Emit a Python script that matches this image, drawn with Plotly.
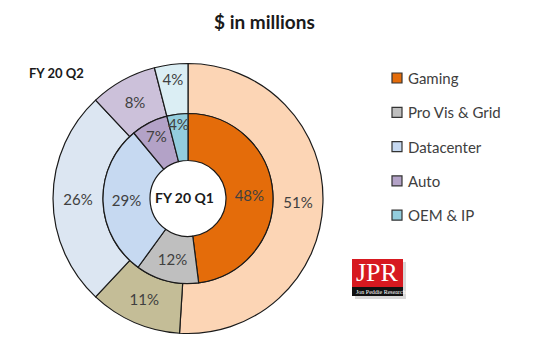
import plotly.graph_objects as go

# Revenue mix by segment, share of total (%)
segments = ["Gaming", "Pro Vis & Grid", "Datacenter", "Auto", "OEM & IP"]
q1_share = [48, 12, 29, 7, 4]   # FY 20 Q1 (inner ring)
q2_share = [51, 11, 26, 8, 4]   # FY 20 Q2 (outer ring)

inner_colors = ["#E46C0A", "#BFBFBF", "#C6D9F1", "#B3A2C7", "#93CDDD"]
outer_colors = ["#FCD5B5", "#C4BD97", "#DCE6F2", "#CCC1DA", "#DBEEF4"]

W, H = 550, 349
FONT = "Lato"
TXT = "#404040"


def px(x):
    return x / W


def py(y):
    return 1 - y / H


def label(text, x, y, size, color, family=FONT, xanchor="center"):
    return dict(text=text, x=px(x), y=py(y), xref="paper", yref="paper",
                xanchor=xanchor, yanchor="middle", showarrow=False,
                font=dict(family=family, size=size, color=color))


cx, cy = 188, 198.5
r_out, r_in, r_hole = 135, 85, 38

fig = go.Figure()

fig.add_trace(go.Pie(
    labels=segments, values=q2_share, sort=False, direction="clockwise",
    rotation=0, hole=r_in / r_out,
    domain=dict(x=[px(cx - r_out), px(cx + r_out)], y=[py(cy + r_out), py(cy - r_out)]),
    marker=dict(colors=outer_colors, line=dict(color="#1a1a1a", width=1.2)),
    texttemplate="%{value}%", textposition="inside", insidetextorientation="horizontal",
    textfont=dict(family=FONT, size=15, color=TXT),
    showlegend=False, hoverinfo="label+value",
))

fig.add_trace(go.Pie(
    labels=segments, values=q1_share, sort=False, direction="clockwise",
    rotation=0, hole=r_hole / r_in,
    domain=dict(x=[px(cx - r_in), px(cx + r_in)], y=[py(cy + r_in), py(cy - r_in)]),
    marker=dict(colors=inner_colors, line=dict(color="#1a1a1a", width=1.2)),
    texttemplate="%{value}%", textposition="inside", insidetextorientation="horizontal",
    textfont=dict(family=FONT, size=15, color=TXT),
    showlegend=False, hoverinfo="label+value",
))

shapes = []
annotations = [
    label("<b>$ in millions</b>", 264, 22, 19, "#1a1a1a"),
    label("<b>FY 20 Q2</b>", 56, 73, 13, "#1a1a1a"),
    label("<b>FY 20 Q1</b>", cx - 4, cy - 1, 14, "#1a1a1a"),
]

# Legend drawn as swatches + labels
leg_x, leg_y0, leg_dy = 392, 78, 34.3
for i, (name, col) in enumerate(zip(segments, inner_colors)):
    yc = leg_y0 + i * leg_dy
    shapes.append(dict(type="rect", xref="paper", yref="paper",
                       x0=px(leg_x), x1=px(leg_x + 10), y0=py(yc + 5), y1=py(yc - 5),
                       fillcolor=col, line=dict(color="#333333", width=1.2)))
    annotations.append(label(name, leg_x + 14, yc, 15, TXT, xanchor="left"))

# JPR logo block
lx0, lx1, ly0, ly1 = 352, 403, 259, 296
shapes.append(dict(type="rect", xref="paper", yref="paper", layer="above",
                   x0=px(lx0 + 3), x1=px(lx1 + 3), y0=py(ly1 + 3), y1=py(ly0 + 3),
                   fillcolor="#d9d9d9", line=dict(width=0)))
shapes.append(dict(type="rect", xref="paper", yref="paper", layer="above",
                   x0=px(lx0), x1=px(lx1), y0=py(ly1), y1=py(ly0),
                   fillcolor="#D71920", line=dict(width=0)))
shapes.append(dict(type="rect", xref="paper", yref="paper", layer="above",
                   x0=px(lx0), x1=px(lx1), y0=py(ly1), y1=py(ly1 - 9),
                   fillcolor="#111111", line=dict(width=0)))
annotations.append(label("JPR", (lx0 + lx1) / 2, 272, 26, "white", family="Liberation Serif"))
annotations.append(label("Jon Peddie Research", (lx0 + lx1) / 2 + 3, 292, 6, "white",
                         family="Liberation Serif"))

fig.update_layout(
    width=W, height=H, margin=dict(l=0, r=0, t=0, b=0),
    paper_bgcolor="white", plot_bgcolor="white",
    shapes=shapes, annotations=annotations,
    uniformtext=dict(minsize=15, mode="show"),
    font=dict(family=FONT),
)

fig.write_html("out.html")
